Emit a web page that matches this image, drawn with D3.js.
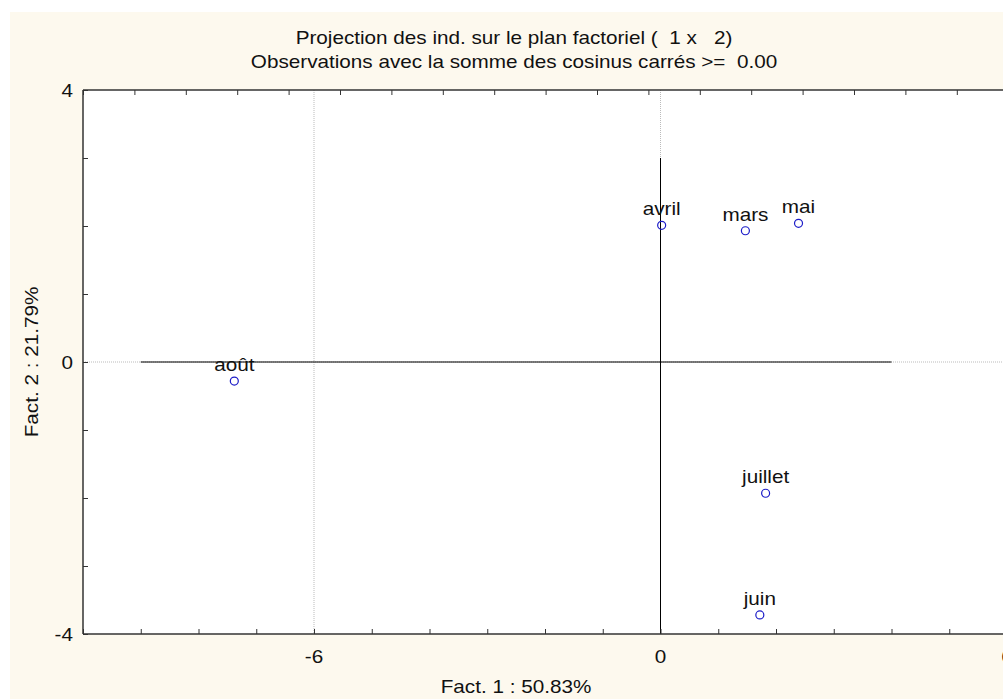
<!DOCTYPE html>
<html><head><meta charset="utf-8">
<script src="https://cdn.jsdelivr.net/npm/d3@7"></script>
<style>body{margin:0;background:#fff;}svg{display:block;font-family:"Liberation Sans",Arial,sans-serif;}text{white-space:pre;}</style>
</head><body><svg id="c" width="1003" height="699"></svg>
<script>
const names = ["avril","mars","mai","août","juillet","juin"];
const fact1 = [0.02, 1.47, 2.39, -7.38, 1.82, 1.72];
const fact2 = [2.01, 1.93, 2.04, -0.28, -1.93, -3.72];
const xTickLabels = [-6, 0, 6];
const yTickLabels = [-4, 0, 4];
const titleLines = ["Projection des ind. sur le plan factoriel (  1 x   2)", "Observations avec la somme des cosinus carrés >=  0.00"];
const xTitle = "Fact. 1 : 50.83%";
const yTitle = "Fact. 2 : 21.79%";

(function(){
const SX = 1.15, FS = 18;
const svg = d3.select("#c");
function txt(parent, s, px, py, anchor, rot){
  return parent.append("text")
    .attr("transform", `translate(${px},${py})` + (rot ? ` rotate(${rot})` : "") + ` scale(${SX},1)`)
    .attr("text-anchor", anchor).attr("font-size", FS).attr("fill", "#111").text(s);
}
svg.append("rect").attr("x",10).attr("y",12).attr("width",993).attr("height",687).attr("fill","#fdf9ee");
const L=83, T=90, B=634;
const x = d3.scaleLinear().domain([-10,8]).range([L, L+18*57.75]);
const y = d3.scaleLinear().domain([-4,4]).range([B, T]);
const R = x(8);
svg.append("rect").attr("x",L).attr("y",T).attr("width",R-L).attr("height",B-T).attr("fill","#fff");

const g = svg.append("g").attr("stroke","#bbb").attr("stroke-dasharray","1,1");
xTickLabels.forEach(v=>g.append("line").attr("x1",x(v)).attr("x2",x(v)).attr("y1",T).attr("y2",B));
[0].forEach(v=>g.append("line").attr("x1",L).attr("x2",R).attr("y1",y(v)).attr("y2",y(v)));

svg.append("line").attr("x1",x(-9)).attr("x2",x(4)).attr("y1",y(0)).attr("y2",y(0)).attr("stroke","#000");
svg.append("line").attr("x1",x(0)).attr("x2",x(0)).attr("y1",y(3)).attr("y2",B).attr("stroke","#000");

const botAx = svg.append("g").attr("transform",`translate(0,${B})`)
  .call(d3.axisTop(x).tickValues(d3.range(-10,9,1)).tickSize(5).tickFormat(""));
botAx.select(".domain").remove();
botAx.selectAll("line").attr("stroke","#333");
svg.append("line").attr("x1",L).attr("x2",R).attr("y1",B).attr("y2",B).attr("stroke","#333").attr("stroke-width",1.5);
const xt = d3.scaleLinear().domain([0,20]).range([L, L+20*51.4]);
const topAx = svg.append("g").attr("transform",`translate(0,${T})`)
  .call(d3.axisBottom(xt).tickValues(d3.range(0,21,1)).tickSize(5).tickFormat(""));
topAx.select(".domain").remove();
topAx.selectAll("line").attr("stroke","#333");
svg.append("line").attr("x1",L).attr("x2",R).attr("y1",T).attr("y2",T).attr("stroke","#333").attr("stroke-width",1.5);
const leftAx = svg.append("g").attr("transform",`translate(${L},0)`)
  .call(d3.axisRight(y).tickValues(d3.range(-4,5,1)).tickSize(5).tickFormat(""));
leftAx.select(".domain").remove();
leftAx.selectAll("line").attr("stroke","#333");
svg.append("line").attr("x1",L).attr("x2",L).attr("y1",T).attr("y2",B).attr("stroke","#333").attr("stroke-width",1.5);

const gx = svg.append("g");
xTickLabels.forEach(v=>txt(gx, String(v), x(v), 663, "middle"));
const gy = svg.append("g");
yTickLabels.forEach(v=>txt(gy, String(v), 73, y(v)+7, "end"));

titleLines.forEach((s,i)=>txt(svg, s, 514, 44+i*24, "middle"));
txt(svg, xTitle, 516, 693, "middle");
txt(svg, yTitle, 38, 362, "middle", -90);

const pts = names.map((n,i)=>({n, a:fact1[i], b:fact2[i]}));
svg.append("g").selectAll("circle").data(pts).join("circle")
  .attr("cx",d=>x(d.a)).attr("cy",d=>y(d.b)).attr("r",4).attr("fill","none").attr("stroke","#1c1cc8").attr("stroke-width",1.2);
const gl = svg.append("g");
pts.forEach(d=>txt(gl, d.n, x(d.a), y(d.b)-10, "middle"));
})();
</script></body></html>
